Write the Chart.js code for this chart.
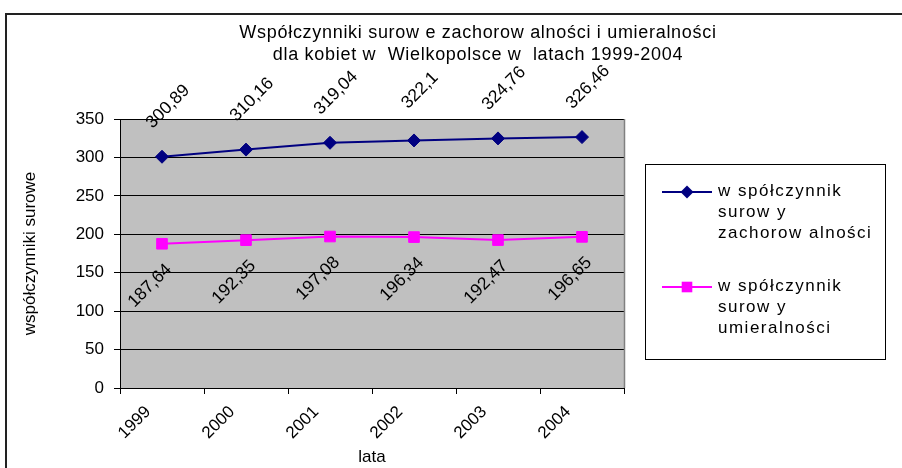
<!DOCTYPE html>
<html>
<head>
<meta charset="utf-8">
<script src="https://cdn.jsdelivr.net/npm/chart.js@4.4.0/dist/chart.umd.min.js"></script>
<style>
html,body{margin:0;padding:0;background:#fff;overflow:hidden}
#wrap{position:relative;width:902px;height:468px;overflow:hidden}
#frame{position:absolute;left:5px;top:13px;width:960px;height:520px;border:2px solid #222;box-sizing:border-box}
canvas{position:absolute;left:0;top:0}
</style>
</head>
<body>
<div id="wrap"><div id="frame"></div><canvas id="c" width="902" height="468"></canvas></div>
<script>
const years = ['1999','2000','2001','2002','2003','2004'];
const zachorowalnosc = [300.89, 310.16, 319.04, 322.1, 324.76, 326.46];
const umieralnosc = [187.64, 192.35, 197.08, 196.34, 192.47, 196.65];
const titleLines = ['Współczynniki surow e zachorow alności i umieralności', 'dla kobiet w  Wielkopolsce w  latach 1999-2004'];
const legendLines = [['w spółczynnik', 'surow y', 'zachorow alności'], ['w spółczynnik', 'surow y', 'umieralności']];

const FONT = '"Liberation Sans", Arial, sans-serif';

function fmt(v){ return String(v).replace('.', ',') }

function marker(ctx, style, x, y, r, color){
  ctx.save();
  ctx.fillStyle = color;
  ctx.beginPath();
  if(style === 'rectRot'){
    ctx.moveTo(x, y-r); ctx.lineTo(x+r, y); ctx.lineTo(x, y+r); ctx.lineTo(x-r, y);
  } else {
    const s = r*Math.SQRT1_2;
    ctx.rect(x-s, y-s, 2*s, 2*s);
  }
  ctx.closePath();
  ctx.fill();
  ctx.restore();
}

// grey plot background, grey right edge
const plotBg = {
  id:'plotBg',
  beforeDraw(chart){
    const {ctx, chartArea:a} = chart;
    ctx.save();
    ctx.fillStyle = '#c0c0c0';
    ctx.fillRect(a.left, a.top, a.right-a.left, a.bottom-a.top);
    ctx.restore();
  },
  afterDraw(chart){
    const {ctx, chartArea:a} = chart;
    ctx.save();
    ctx.strokeStyle = '#808080'; ctx.lineWidth = 1.5;
    ctx.beginPath(); ctx.moveTo(a.right+0.5, a.top); ctx.lineTo(a.right+0.5, a.bottom); ctx.stroke();
    ctx.restore();
  }
};

// two-line title, centred on the frame
const titlePlugin = {
  id:'titleLines',
  afterDraw(chart){
    const ctx = chart.ctx;
    ctx.save();
    ctx.font = '18px ' + FONT;
    if('letterSpacing' in ctx) ctx.letterSpacing = '0.7px';
    ctx.fillStyle = '#000'; ctx.textAlign = 'center'; ctx.textBaseline = 'middle';
    titleLines.forEach((t, i)=>ctx.fillText(t, 478, 33 + i*22));
    ctx.restore();
  }
};

// rotated value labels
const valueLabels = {
  id:'valueLabels',
  afterDatasetsDraw(chart){
    const ctx = chart.ctx;
    const offs = [[6, -50], [-12, 42]];
    ctx.save();
    ctx.font = '17.5px ' + FONT;
    ctx.fillStyle = '#000'; ctx.textAlign = 'center'; ctx.textBaseline = 'middle';
    chart.data.datasets.forEach((ds, di)=>{
      chart.getDatasetMeta(di).data.forEach((pt, i)=>{
        ctx.save();
        ctx.translate(pt.x + offs[di][0], pt.y + offs[di][1]);
        ctx.rotate(-Math.PI/4);
        ctx.fillText(fmt(ds.data[i]), 0, 0);
        ctx.restore();
      });
    });
    ctx.restore();
  }
};

// boxed legend with wrapped labels
const boxLegend = {
  id:'boxLegend',
  afterDraw(chart){
    const ctx = chart.ctx;
    const bx = chart.chartArea.right + 21, by = 164, bw = 240, bh = 195;
    ctx.save();
    ctx.strokeStyle = '#000'; ctx.lineWidth = 1;
    ctx.strokeRect(bx+0.5, by+0.5, bw, bh);
    ctx.font = '17px ' + FONT;
    if('letterSpacing' in ctx) ctx.letterSpacing = '1.5px';
    ctx.textAlign = 'left'; ctx.textBaseline = 'middle'; ctx.fillStyle = '#000';
    chart.data.datasets.forEach((ds, di)=>{
      const ly = by + 28 + di*95;
      ctx.strokeStyle = ds.borderColor; ctx.lineWidth = 2;
      ctx.beginPath(); ctx.moveTo(bx+17, ly); ctx.lineTo(bx+67, ly); ctx.stroke();
      marker(ctx, ds.pointStyle, bx+42, ly, ds.pointRadius, ds.borderColor);
      ctx.fillStyle = '#000';
      legendLines[di].forEach((t, k)=>ctx.fillText(t, bx+73, ly - 1 + k*21));
    });
    ctx.restore();
  }
};

new Chart(document.getElementById('c'), {
  type:'line',
  data:{
    labels: years,
    datasets:[
      {label:'zachorowalność', data: zachorowalnosc, borderColor:'#000080', backgroundColor:'#000080',
       borderWidth:2, pointStyle:'rectRot', pointRadius:6.5, pointBorderWidth:1, tension:0},
      {label:'umieralność', data: umieralnosc, borderColor:'#ff00ff', backgroundColor:'#ff00ff',
       borderWidth:2, pointStyle:'rect', pointRadius:7.5, pointBorderWidth:1, tension:0}
    ]
  },
  options:{
    responsive:false,
    animation:false,
    layout:{padding:{left:0, right:278, top:119, bottom:0}},
    plugins:{legend:{display:false}, tooltip:{enabled:false}, title:{display:false}},
    scales:{
      x:{
        offset:true,
        afterFit(s){ s.height = 80 },
        grid:{offset:true, drawOnChartArea:false, color:'#000', tickLength:6},
        border:{color:'#000', width:1},
        ticks:{minRotation:45, maxRotation:45, autoSkip:false, color:'#000', font:{family:FONT, size:17}, padding:8, labelOffset:-14},
        title:{display:true, text:'lata', color:'#000', font:{family:FONT, size:17}, padding:{top:0, bottom:0}}
      },
      y:{
        min:0, max:350,
        afterFit(s){ s.width = 120 },
        grid:{color:'#000', lineWidth:1, tickLength:6},
        border:{color:'#000', width:1},
        ticks:{stepSize:50, color:'#000', font:{family:FONT, size:17}, padding:10},
        title:{display:true, text:'współczynniki surowe', color:'#000', font:{family:FONT, size:17}, padding:{top:20, bottom:0}}
      }
    }
  },
  plugins:[plotBg, valueLabels, boxLegend, titlePlugin]
});
</script>
</body>
</html>
